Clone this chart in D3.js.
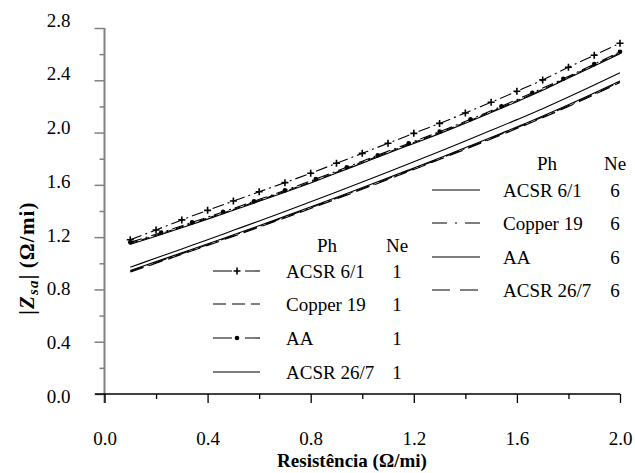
<!DOCTYPE html>
<html><head><meta charset="utf-8">
<script src="https://cdn.jsdelivr.net/npm/d3@7"></script>
<style>
body{margin:0;background:#fff}
</style>
</head><body>
<svg id="c" width="635" height="473"></svg>
<script>
// ---------- data ----------
const xTicks = [0.0, 0.4, 0.8, 1.2, 1.6, 2.0];
const yTicks = [0.0, 0.4, 0.8, 1.2, 1.6, 2.0, 2.4, 2.8];
const xMinor = [0.2, 0.6, 1.0, 1.4, 1.8];
const yMinor = [0.2, 0.6, 1.0, 1.4, 1.8, 2.2, 2.6];

const xR  = [0.1,0.2,0.3,0.4,0.5,0.6,0.7,0.8,0.9,1.0,1.1,1.2,1.3,1.4,1.5,1.6,1.7,1.8,1.9,2.0];
const xAA = [0.1,0.22,0.34,0.46,0.58,0.70,0.82,0.94,1.06,1.18,1.30,1.42,1.54,1.66,1.78,1.90,2.0];

const acsr61_ne1  = [1.18,1.255,1.332,1.405,1.476,1.547,1.617,1.689,1.765,1.841,1.918,1.994,2.07,2.15,2.232,2.316,2.403,2.50,2.592,2.683];
const cu19_ne1    = [1.152,1.214,1.279,1.345,1.412,1.481,1.55,1.622,1.697,1.773,1.849,1.924,1.999,2.078,2.16,2.243,2.33,2.424,2.516,2.61];
const aa_ne1      = [1.16,1.235,1.313,1.393,1.475,1.558,1.645,1.735,1.827,1.917,2.007,2.102,2.201,2.305,2.412,2.524,2.618];
const acsr267_ne1 = [1.145,1.207,1.272,1.338,1.405,1.474,1.543,1.615,1.69,1.766,1.842,1.917,1.992,2.071,2.153,2.236,2.323,2.417,2.509,2.603];

const acsr61_ne6  = [0.97,1.04,1.11,1.18,1.252,1.324,1.397,1.471,1.546,1.622,1.699,1.777,1.856,1.936,2.017,2.099,2.183,2.272,2.364,2.458];
const cu19_ne6    = [0.939,1.006,1.074,1.142,1.212,1.282,1.353,1.425,1.498,1.572,1.647,1.723,1.80,1.878,1.957,2.037,2.119,2.206,2.296,2.389];
const aa_ne6      = [0.945,1.026,1.107,1.19,1.274,1.359,1.446,1.534,1.623,1.714,1.806,1.90,1.995,2.092,2.195,2.302,2.395];
const acsr267_ne6 = [0.933,1.0,1.068,1.136,1.206,1.276,1.347,1.419,1.492,1.566,1.641,1.717,1.794,1.872,1.951,2.031,2.113,2.2,2.29,2.383];

const names1 = ["ACSR 6/1","Copper 19","AA","ACSR 26/7"];
const names6 = ["ACSR 6/1","Copper 19","AA","ACSR 26/7"];

// ---------- layout ----------
const FONT = '"Liberation Serif"';
const svg = d3.select("#c");
const x = d3.scaleLinear().domain([0, 2.0]).range([104.5, 620]);
const y = d3.scaleLinear().domain([0, 2.8]).range([394, 28]);
const yLab = d3.scaleLinear().domain([0, 2.8]).range([396, 19.5]); // label centres
const fmt = d3.format(".1f");

// y axis
const gy = svg.append("g").attr("transform","translate(104.5,0)");
gy.call(d3.axisLeft(y).tickValues(yTicks).tickSize(10).tickFormat(fmt));
gy.attr("font-family", null);
gy.select(".domain").remove();
gy.selectAll(".tick line").attr("stroke","#808080").attr("stroke-width",1.5);
gy.selectAll(".tick text")
  .attr("x",-34).attr("dy",null)
  .attr("y", d => yLab(d) - y(d) + 6.5)
  .attr("text-anchor","end")
  .style("font-family",FONT).style("font-size","19px").attr("fill","#000");
const gym = svg.append("g").attr("transform","translate(104.5,0)");
gym.call(d3.axisLeft(y).tickValues(yMinor).tickSize(5).tickFormat(""));
gym.select(".domain").remove();
gym.selectAll(".tick line").attr("stroke","#808080").attr("stroke-width",1.5);
svg.append("line").attr("x1",104.5).attr("x2",104.5).attr("y1",y(2.8)).attr("y2",403)
  .attr("stroke","#808080").attr("stroke-width",2);

// x axis
const gx = svg.append("g").attr("transform","translate(0,394)");
gx.call(d3.axisBottom(x).tickValues(xTicks).tickSize(9).tickFormat(fmt));
gx.attr("font-family", null);
gx.select(".domain").remove();
gx.selectAll(".tick line").attr("stroke","#000").attr("stroke-width",1.3);
gx.selectAll(".tick text").attr("y",50.5).attr("dy",null)
  .style("font-family",FONT).style("font-size","19px").attr("fill","#000");
const gxm = svg.append("g").attr("transform","translate(0,394)");
gxm.call(d3.axisBottom(x).tickValues(xMinor).tickSize(5).tickFormat(""));
gxm.select(".domain").remove();
gxm.selectAll(".tick line").attr("stroke","#000").attr("stroke-width",1.3);
svg.append("line").attr("x1",95).attr("x2",x(2.0)).attr("y1",394).attr("y2",394)
  .attr("stroke","#000").attr("stroke-width",1.5);

// titles
svg.append("text").attr("x",352).attr("y",467).attr("text-anchor","middle")
  .style("font-family",FONT).style("font-size","19px").style("font-weight","bold").text("Resistência (Ω/mi)");
const yt = svg.append("text").attr("transform","translate(34,258) rotate(-90)")
  .attr("text-anchor","middle").style("font-family",FONT).style("font-size","21px")
  .style("font-weight","bold").style("letter-spacing","1.2px");
yt.append("tspan").text("|");
yt.append("tspan").style("font-style","italic").text("Z");
yt.append("tspan").attr("dy",4).style("font-size","15px").style("font-style","italic").style("font-weight","bold").text("sa");
yt.append("tspan").attr("dy",-4).text("|");
yt.append("tspan").attr("dx",5).text("(Ω/mi)");

// ---------- series ----------
const series = [
  {x:xR,  y:acsr61_ne1,  dash:"12,4,2,4", marker:"plus", leg:1, row:0, ldash:"19,13"},
  {x:xR,  y:cu19_ne1,    dash:"8,4",      marker:null,   leg:1, row:1, ldash:"13,6"},
  {x:xAA, y:aa_ne1,      dash:"12,4,2,4", marker:"dot",  leg:1, row:2, ldash:"19,13"},
  {x:xR,  y:acsr267_ne1, dash:null,       marker:null,   leg:1, row:3, ldash:null},
  {x:xR,  y:acsr61_ne6,  dash:null,       marker:null,   leg:6, row:0, ldash:null},
  {x:xR,  y:cu19_ne6,    dash:"14,4,2,4", marker:null,   leg:6, row:1, ldash:"15,8,2,8"},
  {x:xAA, y:aa_ne6,      dash:null,       marker:null,   leg:6, row:2, ldash:null},
  {x:xR,  y:acsr267_ne6, dash:"14,6",     marker:null,   leg:6, row:3, ldash:"18,10"},
];
const line = d3.line().x(d=>x(d[0])).y(d=>y(d[1])).curve(d3.curveMonotoneX);
const gPlot = svg.append("g");
function drawMarker(g, type, cx, cy){
  if(type==="plus"){
    g.append("path").attr("d",`M${cx-3.5},${cy}H${cx+3.5}M${cx},${cy-3.5}V${cy+3.5}`)
      .attr("stroke","#000").attr("stroke-width",1.6).attr("fill","none");
  } else if(type==="dot"){
    g.append("circle").attr("cx",cx).attr("cy",cy).attr("r",2.3).attr("fill","#000");
  }
}
series.forEach(s=>{
  const pts = s.x.map((xv,i)=>[xv, s.y[i]]);
  gPlot.append("path").datum(pts).attr("d",line).attr("fill","none")
    .attr("stroke","#000").attr("stroke-width",1.1)
    .attr("stroke-dasharray", s.dash);
  if(s.marker) pts.forEach(p=>drawMarker(gPlot, s.marker, x(p[0]), y(p[1])));
});

// ---------- legends ----------
const legends = {
  1:{x0:213, x1:260, tx:286, nx:397, ph:327, top:245, rows:[271,304,338,372], names:names1},
  6:{x0:432, x1:480, tx:503, nx:615, ph:547, top:163, rows:[190,223,257,290], names:names6}
};
function T(g){ return g.append("text").style("font-family",FONT).style("font-size","19px"); }
[1,6].forEach(k=>{
  const L = legends[k];
  const g = svg.append("g");
  T(g).attr("x",L.ph).attr("y",L.top+6.5).attr("text-anchor","middle").text("Ph");
  T(g).attr("x",L.nx).attr("y",L.top+6.5).attr("text-anchor","middle").text("Ne");
  series.filter(s=>s.leg===k).forEach(s=>{
    const ry = L.rows[s.row];
    g.append("line").attr("x1",L.x0).attr("x2",L.x1).attr("y1",ry).attr("y2",ry)
      .attr("stroke","#000").attr("stroke-width",1.1).attr("stroke-dasharray",s.ldash);
    if(s.marker) drawMarker(g, s.marker, L.x0+24, ry);
    T(g).attr("x",L.tx).attr("y",ry+6.5).text(L.names[s.row]);
    T(g).attr("x",L.nx).attr("y",ry+6.5).attr("text-anchor","middle").text(k);
  });
});
</script>
</body></html>
